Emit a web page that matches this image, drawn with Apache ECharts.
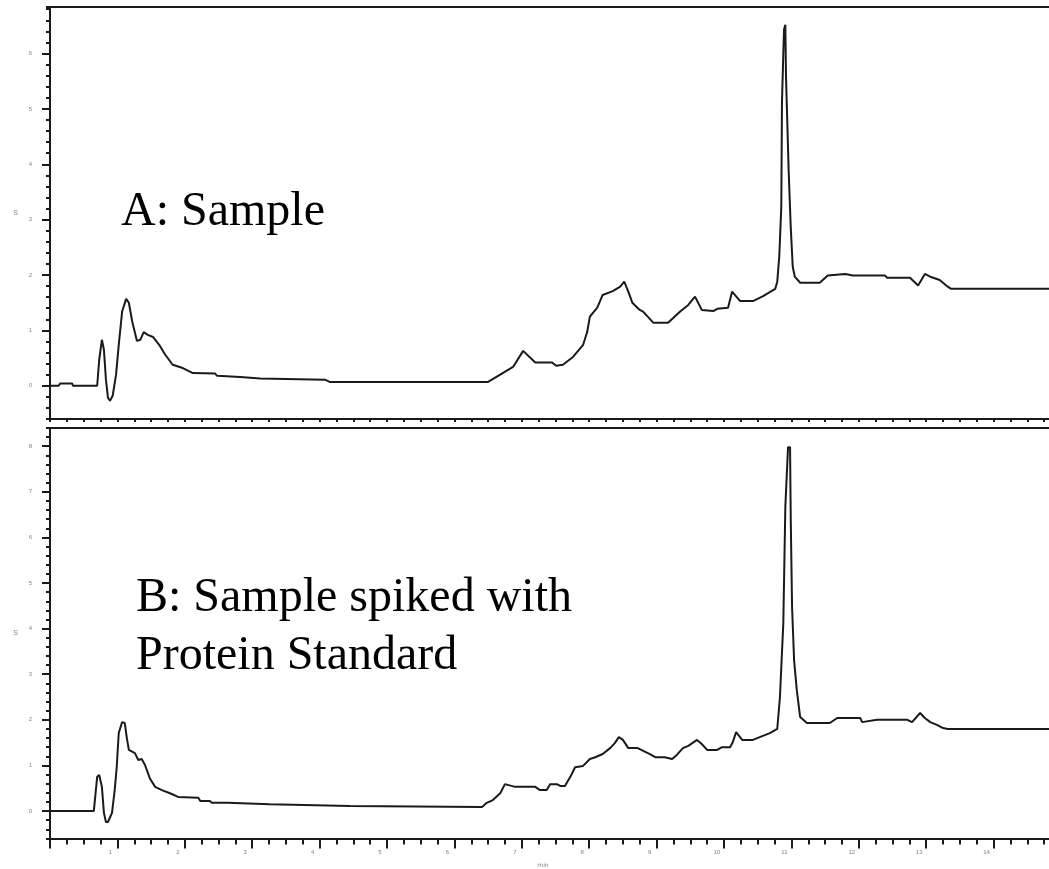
<!DOCTYPE html>
<html>
<head>
<meta charset="utf-8">
<script src="https://cdn.jsdelivr.net/npm/echarts@6/dist/echarts.min.js"></script>
<style>
  html, body { margin: 0; padding: 0; background: #fff; overflow: hidden; }
  #chart { width: 1120px; height: 869px; }
</style>
</head>
<body>
<div id="chart"></div>
<script>
// Trace A: sample (time in major-tick units, signal in major-tick units)
const timeA = [0, 0.13, 0.15, 0.33, 0.34, 0.70, 0.73, 0.77, 0.80, 0.83, 0.86, 0.89, 0.93, 0.98, 1.02, 1.07, 1.13, 1.17, 1.22, 1.29,
  1.34, 1.39, 1.45, 1.53, 1.62, 1.71, 1.82, 1.97, 2.12, 2.45, 2.48, 2.82, 3.12, 4.08, 4.15, 6.50, 6.68, 6.87, 7.02, 7.20,
  7.45, 7.51, 7.61, 7.76, 7.91, 7.97, 8.01, 8.12, 8.20, 8.35, 8.46, 8.52, 8.58, 8.64, 8.75, 8.80, 8.95, 9.17, 9.35, 9.47,
  9.57, 9.67, 9.84, 9.90, 10.06, 10.12, 10.24, 10.43, 10.58, 10.76, 10.79, 10.82, 10.85, 10.86, 10.89, 10.91, 10.92, 10.96, 10.99, 11.02,
  11.05, 11.13, 11.42, 11.54, 11.80, 11.91, 12.39, 12.42, 12.76, 12.88, 12.98, 13.06, 13.20, 13.32, 13.37, 15.5];
const signalA = [0, 0, 0.04, 0.04, 0, 0, 0.47, 0.83, 0.65, 0.11, -0.22, -0.27, -0.18, 0.20, 0.74, 1.34, 1.57, 1.50, 1.16, 0.81,
  0.83, 0.97, 0.92, 0.88, 0.74, 0.56, 0.38, 0.32, 0.23, 0.22, 0.18, 0.16, 0.13, 0.11, 0.07, 0.07, 0.20, 0.34, 0.63, 0.42,
  0.42, 0.36, 0.38, 0.52, 0.74, 0.97, 1.25, 1.41, 1.64, 1.71, 1.79, 1.88, 1.70, 1.50, 1.37, 1.34, 1.14, 1.14, 1.34, 1.46,
  1.61, 1.37, 1.35, 1.39, 1.41, 1.70, 1.53, 1.53, 1.62, 1.75, 1.88, 2.33, 3.23, 5.11, 6.43, 6.52, 5.58, 3.86, 2.87, 2.15,
  1.97, 1.86, 1.86, 1.99, 2.02, 1.99, 1.99, 1.95, 1.95, 1.81, 2.02, 1.97, 1.91, 1.79, 1.75, 1.75];

// Trace B: sample spiked with protein standard
const timeB = [0, 0.65, 0.70, 0.73, 0.77, 0.80, 0.83, 0.86, 0.92, 0.96, 0.99, 1.02, 1.07, 1.11, 1.14, 1.17, 1.26, 1.31, 1.36, 1.41,
  1.48, 1.56, 1.66, 1.78, 1.90, 2.20, 2.23, 2.37, 2.40, 2.63, 2.64, 3.26, 3.28, 4.45, 6.41, 6.48, 6.57, 6.68, 6.75, 6.90,
  7.20, 7.27, 7.37, 7.42, 7.52, 7.57, 7.64, 7.72, 7.79, 7.91, 8.01, 8.09, 8.20, 8.31, 8.38, 8.44, 8.50, 8.58, 8.72, 8.90,
  8.98, 9.12, 9.23, 9.30, 9.39, 9.47, 9.53, 9.60, 9.67, 9.75, 9.90, 9.97, 10.09, 10.13, 10.18, 10.27, 10.43, 10.53, 10.68, 10.79,
  10.83, 10.88, 10.91, 10.95, 10.98, 10.99, 11.01, 11.04, 11.08, 11.13, 11.23, 11.57, 11.68, 12.02, 12.05, 12.27, 12.72, 12.79, 12.91, 12.98,
  13.06, 13.16, 13.25, 13.32, 15.5];
const signalB = [0, 0, 0.75, 0.79, 0.53, -0.04, -0.24, -0.24, -0.04, 0.46, 0.96, 1.71, 1.95, 1.93, 1.60, 1.34, 1.27, 1.12, 1.14, 1.01,
  0.72, 0.53, 0.46, 0.39, 0.31, 0.29, 0.22, 0.22, 0.18, 0.18, 0.15, 0.15, 0.11, 0.11, 0.09, 0.18, 0.24, 0.39, 0.59, 0.53,
  0.53, 0.46, 0.46, 0.59, 0.59, 0.55, 0.55, 0.75, 0.96, 0.99, 1.14, 1.18, 1.25, 1.38, 1.49, 1.62, 1.56, 1.38, 1.38, 1.25,
  1.18, 1.18, 1.14, 1.23, 1.38, 1.43, 1.49, 1.56, 1.47, 1.34, 1.34, 1.40, 1.40, 1.51, 1.73, 1.56, 1.56, 1.62, 1.71, 1.80,
  2.50, 4.12, 6.67, 7.98, 7.98, 6.45, 4.47, 3.31, 2.65, 2.06, 1.93, 1.93, 2.04, 2.04, 1.95, 2.00, 2.00, 1.95, 2.15, 2.04,
  1.95, 1.89, 1.82, 1.80, 1.80];

// Tick labels
const yTicksA = [0, 1, 2, 3, 4, 5, 6];
const yTicksB = [0, 1, 2, 3, 4, 5, 6, 7, 8];

const pairs = (xs, ys) => xs.map((x, i) => [x, ys[i]]);

const INK = '#1a1a1a';
const LABEL = '#7d8590';

const chart = echarts.init(document.getElementById('chart'));

const plotWidth = 15.5 * 67.4;

const bottomAxis = (gridIndex, withLabels) => ({
  type: 'value',
  gridIndex,
  position: 'bottom',
  min: 0,
  max: 15.5,
  interval: 1,
  axisLine: { show: true, onZero: false, lineStyle: { color: INK, width: 2 } },
  axisTick: { show: true, length: withLabels ? 10 : 3, lineStyle: { color: INK, width: 2 } },
  minorTick: { show: true, splitNumber: 4, length: withLabels ? 6 : 3, lineStyle: { color: INK, width: 2 } },
  axisLabel: withLabels
    ? {
        show: true,
        showMinLabel: false,
        margin: 11,
        fontSize: 6,
        color: LABEL,
        padding: [0, 14, 0, 0],
      }
    : { show: false },
  splitLine: { show: false },
  minorSplitLine: { show: false },
});

const topLine = (gridIndex) => ({
  type: 'value',
  gridIndex,
  position: 'top',
  min: 0,
  max: 15.5,
  axisLine: { show: true, onZero: false, lineStyle: { color: INK, width: 2 } },
  axisTick: { show: false },
  axisLabel: { show: false },
  splitLine: { show: false },
});

const majorY = (gridIndex, min, max, ticks) => ({
  type: 'value',
  gridIndex,
  position: 'left',
  min,
  max,
  name: 'S',
  nameLocation: 'middle',
  nameGap: 32,
  nameRotate: 0,
  nameTextStyle: { fontSize: 7, color: LABEL },
  axisLine: { show: true, onZero: false, lineStyle: { color: INK, width: 2 } },
  axisTick: { show: true, customValues: ticks, length: 8, lineStyle: { color: INK, width: 2 } },
  axisLabel: { show: true, customValues: ticks, margin: 18, fontSize: 6, color: LABEL },
  splitLine: { show: false },
});

const minorY = (gridIndex, min, max) => ({
  type: 'value',
  gridIndex,
  position: 'left',
  offset: 0,
  min,
  max,
  interval: 0.2,
  axisLine: { show: false, onZero: false },
  axisTick: { show: true, length: 4, lineStyle: { color: INK, width: 2 } },
  axisLabel: { show: false },
  splitLine: { show: false },
});

const option = {
  animation: false,
  backgroundColor: '#fff',
  grid: [
    { left: 50, top: 7, width: plotWidth, height: 412 },
    { left: 50, top: 428, width: plotWidth, height: 410.4 },
  ],
  xAxis: [bottomAxis(0, false), topLine(0), bottomAxis(1, true), topLine(1)],
  yAxis: [
    majorY(0, -0.6, 6.84, yTicksA),
    minorY(0, -0.6, 6.84),
    majorY(1, -0.6, 8.4, yTicksB),
    minorY(1, -0.6, 8.4),
  ],
  series: [
    {
      name: 'A: Sample',
      type: 'line',
      xAxisIndex: 0,
      yAxisIndex: 0,
      data: pairs(timeA, signalA),
      showSymbol: false,
      lineStyle: { color: INK, width: 2 },
    },
    {
      name: 'B: Sample spiked with Protein Standard',
      type: 'line',
      xAxisIndex: 2,
      yAxisIndex: 2,
      data: pairs(timeB, signalB),
      showSymbol: false,
      lineStyle: { color: INK, width: 2 },
    },
  ],
  graphic: [
    {
      type: 'text',
      x: 121,
      y: 212,
      style: {
        text: 'A: Sample',
        font: '48px "Liberation Serif", "Times New Roman", serif',
        fill: '#000',
        align: 'left',
        verticalAlign: 'middle',
      },
    },
    {
      type: 'text',
      x: 136,
      y: 598,
      style: {
        text: 'B: Sample spiked with',
        font: '48px "Liberation Serif", "Times New Roman", serif',
        fill: '#000',
        align: 'left',
        verticalAlign: 'middle',
      },
    },
    {
      type: 'text',
      x: 136,
      y: 656,
      style: {
        text: 'Protein Standard',
        font: '48px "Liberation Serif", "Times New Roman", serif',
        fill: '#000',
        align: 'left',
        verticalAlign: 'middle',
      },
    },
    {
      type: 'text',
      x: 543,
      y: 865,
      style: {
        text: 'min',
        font: '6px "DejaVu Sans", sans-serif',
        fill: LABEL,
        align: 'center',
        verticalAlign: 'middle',
      },
    },
  ],
};

chart.setOption(option);
</script>
</body>
</html>
